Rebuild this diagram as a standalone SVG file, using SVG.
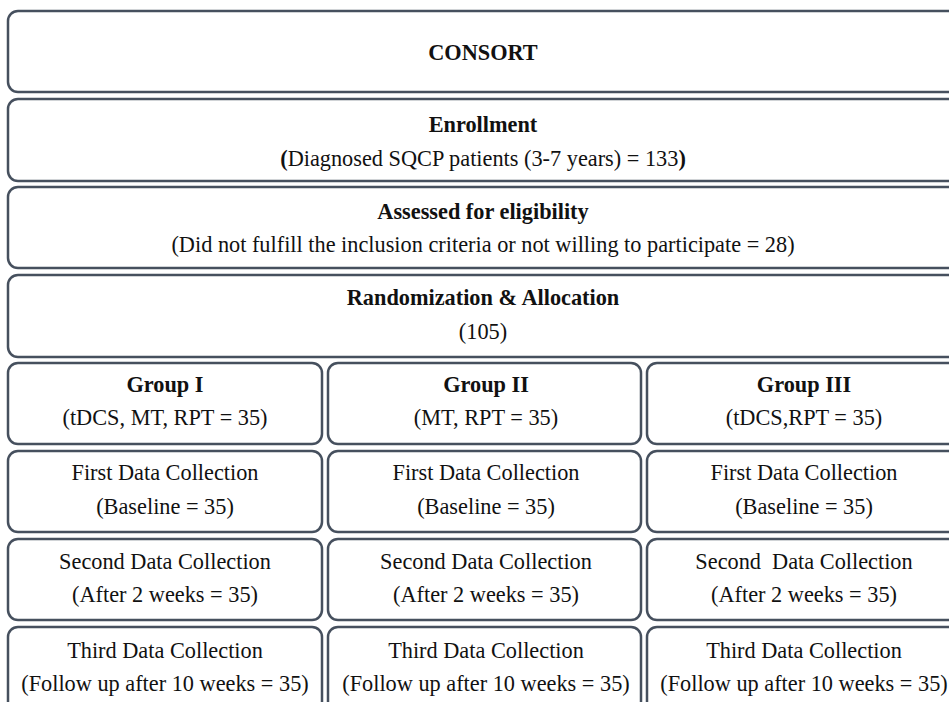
<svg xmlns="http://www.w3.org/2000/svg" width="949" height="702" viewBox="0 0 949 702">
<style>
.b{fill:#fff;stroke:#46505e;stroke-width:2.5}
text{font-family:"Liberation Serif","Times New Roman",serif;font-size:22.3px;fill:#111;text-anchor:middle}
.h{font-weight:bold}
</style>
<rect width="949" height="702" fill="#fff"/>
<g id="consort"><rect class="b" x="8" y="11" width="952" height="81" rx="10"/><text class="h" x="483" y="60">CONSORT</text></g>
<g id="enrollment"><rect class="b" x="8" y="99" width="952" height="82" rx="10"/><text class="h" x="483" y="132">Enrollment</text><text x="483" y="166"><tspan class="h">(</tspan>Diagnosed SQCP patients (3-7 years) = 133<tspan class="h">)</tspan></text></g>
<g id="eligibility"><rect class="b" x="8" y="187" width="952" height="81" rx="10"/><text class="h" x="483" y="219">Assessed for eligibility</text><text x="483" y="252">(Did not fulfill the inclusion criteria or not willing to participate = 28)</text></g>
<g id="randomization"><rect class="b" x="8" y="275" width="952" height="82" rx="10"/><text class="h" x="483" y="305">Randomization &amp; Allocation</text><text x="483" y="339">(105)</text></g>
<g id="g1"><rect class="b" x="8" y="363" width="314" height="81" rx="10"/><text class="h" x="165" y="392">Group I</text><text x="165" y="425">(tDCS, MT, RPT = 35)</text></g>
<g id="g2"><rect class="b" x="328" y="363" width="313" height="81" rx="10"/><text class="h" x="486" y="392">Group II</text><text x="486" y="425">(MT, RPT = 35)</text></g>
<g id="g3"><rect class="b" x="647" y="363" width="314" height="81" rx="10"/><text class="h" x="804" y="392">Group III</text><text x="804" y="425">(tDCS,RPT = 35)</text></g>
<g id="g1d1"><rect class="b" x="8" y="451" width="314" height="81" rx="10"/><text x="165" y="480">First Data Collection</text><text x="165" y="514">(Baseline = 35)</text></g>
<g id="g2d1"><rect class="b" x="328" y="451" width="313" height="81" rx="10"/><text x="486" y="480">First Data Collection</text><text x="486" y="514">(Baseline = 35)</text></g>
<g id="g3d1"><rect class="b" x="647" y="451" width="314" height="81" rx="10"/><text x="804" y="480">First Data Collection</text><text x="804" y="514">(Baseline = 35)</text></g>
<g id="g1d2"><rect class="b" x="8" y="539" width="314" height="81" rx="10"/><text x="165" y="569">Second Data Collection</text><text x="165" y="602">(After 2 weeks = 35)</text></g>
<g id="g2d2"><rect class="b" x="328" y="539" width="313" height="81" rx="10"/><text x="486" y="569">Second Data Collection</text><text x="486" y="602">(After 2 weeks = 35)</text></g>
<g id="g3d2"><rect class="b" x="647" y="539" width="314" height="81" rx="10"/><text x="804" y="569" xml:space="preserve">Second  Data Collection</text><text x="804" y="602">(After 2 weeks = 35)</text></g>
<g id="g1d3"><rect class="b" x="8" y="627" width="314" height="90" rx="10"/><text x="165" y="658">Third Data Collection</text><text x="165" y="691">(Follow up after 10 weeks = 35)</text></g>
<g id="g2d3"><rect class="b" x="328" y="627" width="313" height="90" rx="10"/><text x="486" y="658">Third Data Collection</text><text x="486" y="691">(Follow up after 10 weeks = 35)</text></g>
<g id="g3d3"><rect class="b" x="647" y="627" width="314" height="90" rx="10"/><text x="804" y="658">Third Data Collection</text><text x="804" y="691">(Follow up after 10 weeks = 35)</text></g>
<g id="connectors"/>
</svg>
